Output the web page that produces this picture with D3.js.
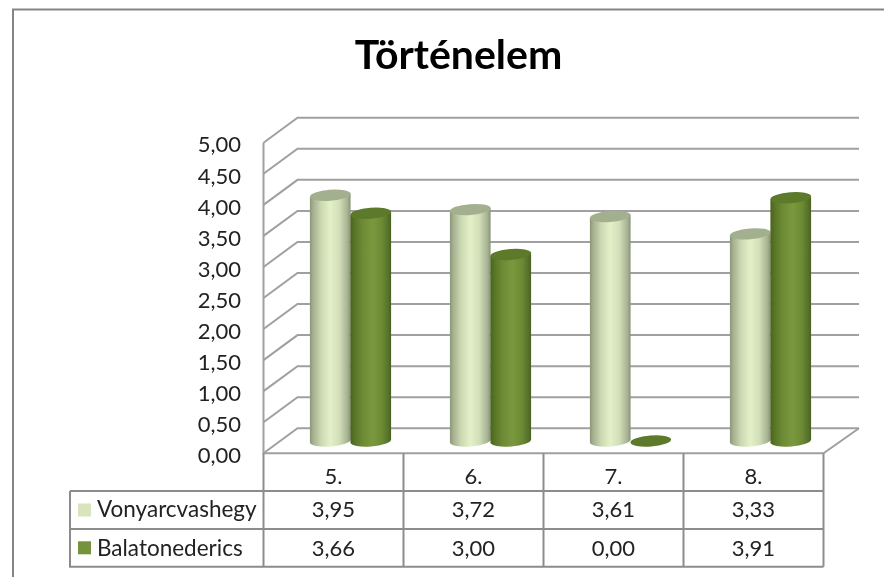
<!DOCTYPE html>
<html><head><meta charset="utf-8">
<script src="https://cdn.jsdelivr.net/npm/d3@7/dist/d3.min.js"></script>
<style>html,body{margin:0;padding:0;background:#fff;overflow:hidden}svg{display:block}text{font-family:Lato,"Open Sans",sans-serif;fill:#222}</style>
</head><body><svg id="c" width="884" height="577"></svg>
<script>
const categories = ["5.","6.","7.","8."];
const seriesNames = ["Vonyarcvashegy","Balatonederics"];
const vonyarcvashegy = [3.95,3.72,3.61,3.33];
const balatonederics = [3.66,3.00,0.00,3.91];
const seriesValues = [vonyarcvashegy,balatonederics];
const yTicks = [0,0.5,1,1.5,2,2.5,3,3.5,4,4.5,5];
const title = "Történelem";

const svg = d3.select("#c");
const fmt = d3.formatLocale({decimal:",",thousands:" ",grouping:[3],currency:["",""]}).format(".2f");
const dx = 34, dyBack = 25;
const left = 263.5, right = 823.5;
const yFront = d3.scaleLinear().domain([0,5]).range([453.3,142.7]);
const yMid = d3.scaleLinear().domain([0,5]).range([441,130]);
const xCat = d3.scaleBand().domain(categories).range([left,right]);
const xMid = d3.scaleBand().domain(categories).range([left+17,right+17]);
const xSeries = d3.scaleBand().domain(d3.range(seriesNames.length)).range([-40.5,40.5]);
const rowY = d3.scaleBand().domain(["head",...seriesNames]).range([453.3,566.7]);

const defs = svg.append("defs");
defs.append("filter").attr("id","soft").attr("x","-5%").attr("y","-5%").attr("width","110%").attr("height","110%")
  .append("feGaussianBlur").attr("stdDeviation",0.45);
function grad(id,stops){
  const g=defs.append("linearGradient").attr("id",id);
  stops.forEach(([o,c])=>g.append("stop").attr("offset",o).attr("stop-color",c));
}
grad("g0",[[0,"#8b9679"],[0.08,"#a4b08f"],[0.28,"#cdd9b2"],[0.5,"#e4f0c8"],[0.72,"#d3dfb8"],[0.92,"#a7b392"],[1,"#87927a"]]);
grad("g1",[[0,"#4a6320"],[0.1,"#587428"],[0.3,"#6d8b35"],[0.55,"#7a993e"],[0.78,"#6c8a34"],[0.93,"#56712a"],[1,"#4a6120"]]);
const topCol=["#a3b08f","#5c7a2b"], flatCol=["#a3b08f","#5c7a2b"];

const root = svg.append("g").attr("filter","url(#soft)");
// outer frame
root.append("path").attr("d","M13,577V9.5H884").attr("fill","none").attr("stroke","#858585").attr("stroke-width",2);

// walls and gridlines
const gridC="#a0a0a0";
const grid = root.append("g").attr("fill","none").attr("stroke",gridC).attr("stroke-width",2);
grid.selectAll("path.g").data(yTicks).join("path").attr("class","g")
  .attr("d",d=>`M${left},${yFront(d)}L${left+dx},${yFront(d)-dyBack}H${right+35.5}`);
grid.append("path").attr("d",`M${left},${yFront(5)}V${yFront(0)}H${right}L${right+35.5},${yFront(0)-dyBack}`);

// y axis labels
const ax = root.append("g").attr("transform",`translate(${left-22.5},2)`)
  .call(d3.axisLeft(yFront).tickValues(yTicks).tickSize(0).tickPadding(0).tickFormat(fmt));
ax.select(".domain").remove();
ax.selectAll("text").attr("font-size",22).attr("dy","0.33em").style("font-family","Lato,sans-serif").attr("fill","#222");

// cylinders
const rx=20.4, ry=5.5, rot=-4.5;
const dxE=rx*Math.cos(rot*Math.PI/180), dyE=rx*Math.sin(rot*Math.PI/180);
categories.forEach((c,ci)=>{
  seriesValues.forEach((vals,si)=>{
    const v=vals[ci];
    const cx=xMid(c)+xMid.bandwidth()/2+xSeries(si)+xSeries.bandwidth()/2;
    const y0=yMid(0), y1=yMid(v);
    const g=root.append("g");
    if(v>0){
      g.append("path").attr("fill",`url(#g${si})`)
        .attr("d",`M${cx-dxE},${y1-dyE}L${cx-dxE},${y0-dyE}A${rx},${ry} ${rot} 0 0 ${cx+dxE},${y0+dyE}L${cx+dxE},${y1+dyE}Z`);
    }
    g.append("ellipse").attr("cx",cx).attr("cy",y1).attr("rx",rx).attr("ry",ry)
      .attr("transform",`rotate(${rot} ${cx} ${y1})`).attr("fill",v>0?topCol[si]:flatCol[si]);
  });
});

// data table
const tC="#8c8c8c";
const tbl=root.append("g").attr("fill","none").attr("stroke",tC).attr("stroke-width",2);
const rows=rowY.domain();
tbl.selectAll("path.h").data(rows.slice(1)).join("path").attr("class","h")
  .attr("d",d=>`M70,${rowY(d)}H${right}`);
tbl.append("path").attr("d",`M70,${rowY(seriesNames[0])}V${rowY.range()[1]}H${right}`);
tbl.selectAll("path.v").data(categories).join("path").attr("class","v")
  .attr("d",d=>`M${xCat(d)},${yFront(0)}V${rowY.range()[1]}`);
tbl.append("path").attr("d",`M${right},${yFront(0)}V${rowY.range()[1]}`);

const txt=root.append("g").attr("font-size",22).attr("text-anchor","middle");
txt.selectAll("text.c").data(categories).join("text").attr("class","c")
  .attr("x",d=>xCat(d)+xCat.bandwidth()/2)
  .attr("y",rowY("head")+rowY.bandwidth()/2+12).text(d=>d);
seriesNames.forEach((n,si)=>{
  const yc=rowY(n)+rowY.bandwidth()/2;
  txt.selectAll("text.v"+si).data(seriesValues[si]).join("text").attr("class","v"+si)
    .attr("x",(d,i)=>xCat(categories[i])+xCat.bandwidth()/2).attr("y",yc+7+si).text(d=>fmt(d));
  root.append("rect").attr("x",78).attr("y",yc-6.5).attr("width",13).attr("height",13)
    .attr("fill",["#d7e4bc","#76923c"][si]);
  root.append("text").attr("x",97).attr("y",yc+7+si).attr("font-size",22.5).text(n);
});

// title
root.append("text").attr("x",458.5).attr("y",69).attr("text-anchor","middle")
  .attr("font-size",41).attr("font-weight",700).style("fill","#000").text(title);
</script></body></html>
